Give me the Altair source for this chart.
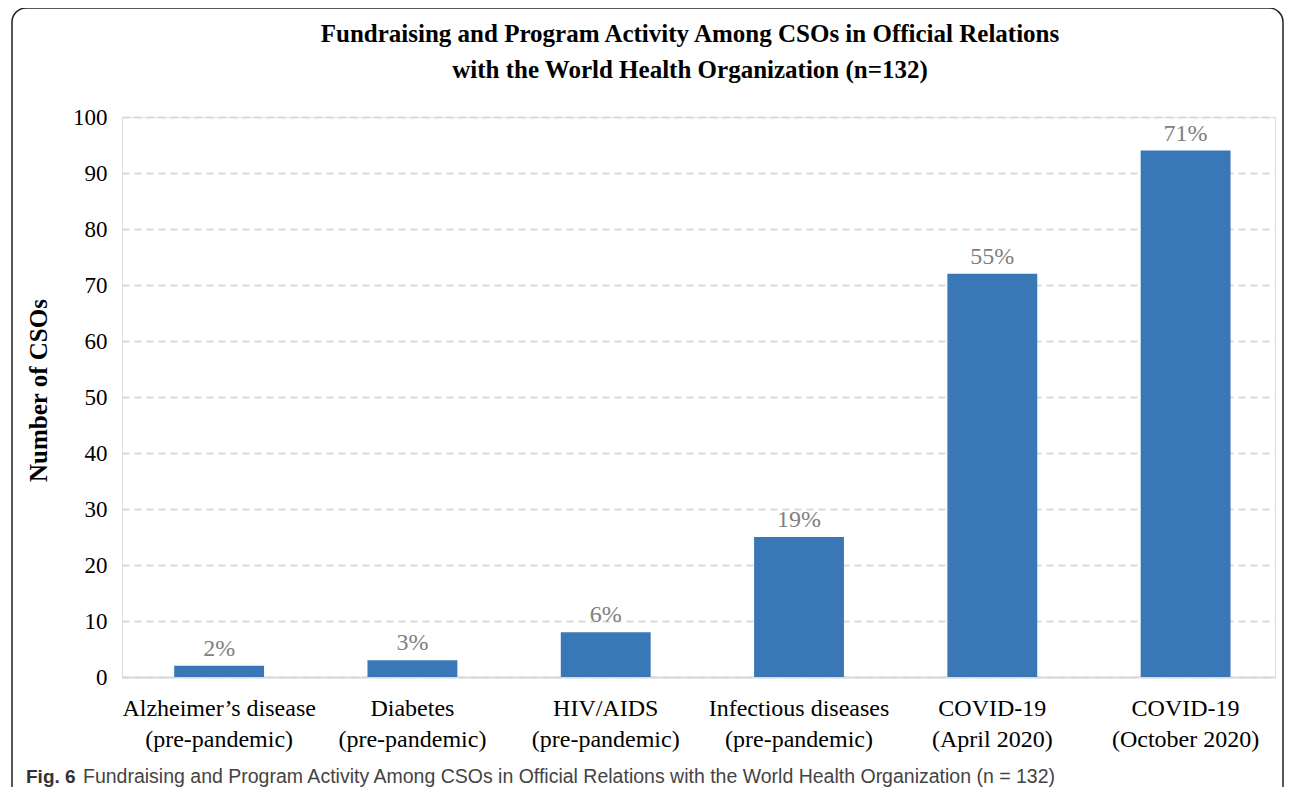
import altair as alt
import pandas as pd

categories = [
    "Alzheimer’s disease\n(pre-pandemic)",
    "Diabetes\n(pre-pandemic)",
    "HIV/AIDS\n(pre-pandemic)",
    "Infectious diseases\n(pre-pandemic)",
    "COVID-19\n(April 2020)",
    "COVID-19\n(October 2020)",
]
counts = [2, 3, 8, 25, 72, 94]
pct_labels = ["2%", "3%", "6%", "19%", "55%", "71%"]

title_line1 = "Fundraising and Program Activity Among CSOs in Official Relations"
title_line2 = "with the World Health Organization (n=132)"
caption_bold = "Fig. 6"
caption_rest = "Fundraising and Program Activity Among CSOs in Official Relations with the World Health Organization (n = 132)"

df = pd.DataFrame({"cat": categories, "count": counts, "pct": pct_labels})
ann = pd.DataFrame({
    "bold": [caption_bold], "rest": [caption_rest],
    "t1": [title_line1], "t2": [title_line2],
})

W, H = 1153, 560
SERIF = "Liberation Serif"
SANS = "Liberation Sans"

x_enc = alt.X(
    "cat:N",
    sort=categories,
    title=None,
    scale=alt.Scale(paddingInner=0.535, paddingOuter=0.25, align=0.54),
    axis=alt.Axis(
        labelAngle=0,
        labelExpr="split(datum.label, '\\n')",
        labelFont=SERIF,
        labelFontSize=24,
        labelColor="#000000",
        labelLineHeight=31,
        labelPadding=19,
        labelLimit=0,
        ticks=False,
        domain=True,
        domainColor="#d9d9d9",
        domainWidth=2,
    ),
)
y_enc = alt.Y(
    "count:Q",
    title="Number of CSOs",
    scale=alt.Scale(domain=[0, 100]),
    axis=alt.Axis(
        values=list(range(0, 101, 10)),
        labelFont=SERIF,
        labelFontSize=23,
        labelColor="#000000",
        labelPadding=15,
        ticks=False,
        domain=False,
        grid=True,
        gridColor="#d9d9d9",
        gridWidth=2,
        gridDash=[7, 5],
        titleFont=SERIF,
        titleFontSize=25,
        titleFontWeight="bold",
        titleColor="#000000",
        titleAngle=270,
        titleX=-84,
        titleY=273,
        titleAlign="center",
        titleBaseline="middle",
    ),
)

bars = alt.Chart(df).mark_bar(color="#3a77b7").encode(x=x_enc, y=y_enc)

labels = alt.Chart(df).mark_text(
    font=SERIF, fontSize=24, color="#808080", baseline="alphabetic", dy=-10
).encode(x=alt.X("cat:N", sort=categories), y="count:Q", text="pct:N")

border = alt.Chart(ann).mark_rect(
    fill=None, stroke="#222222", strokeWidth=1.5, cornerRadius=14
).encode(
    x=alt.value(-110), x2=alt.value(1161), y=alt.value(-109), y2=alt.value(700)
)

title1 = alt.Chart(ann).mark_text(
    font=SERIF, fontSize=25, fontWeight="bold", color="#000000",
    align="center", baseline="alphabetic"
).encode(x=alt.value(568), y=alt.value(-75), text="t1:N")

title2 = alt.Chart(ann).mark_text(
    font=SERIF, fontSize=25, fontWeight="bold", color="#000000",
    align="center", baseline="alphabetic"
).encode(x=alt.value(568), y=alt.value(-39), text="t2:N")

cap_bold = alt.Chart(ann).mark_text(
    font=SANS, fontSize=19, fontWeight="bold", color="#333333",
    align="left", baseline="alphabetic"
).encode(x=alt.value(-96), y=alt.value(666), text="bold:N")

cap_rest = alt.Chart(ann).mark_text(
    font=SANS, fontSize=19.5, color="#444444",
    align="left", baseline="alphabetic"
).encode(x=alt.value(-39), y=alt.value(666), text="rest:N")

chart = alt.layer(border, bars, labels, title1, title2, cap_bold, cap_rest).properties(
    width=W,
    height=H,
    autosize=alt.AutoSizeParams(type="none"),
    padding={"left": 114, "top": 109, "right": 9, "bottom": 110},
).configure_view(stroke=None).configure(background="white")

chart.save("out.html", embed_options={"renderer": "svg", "actions": False})
